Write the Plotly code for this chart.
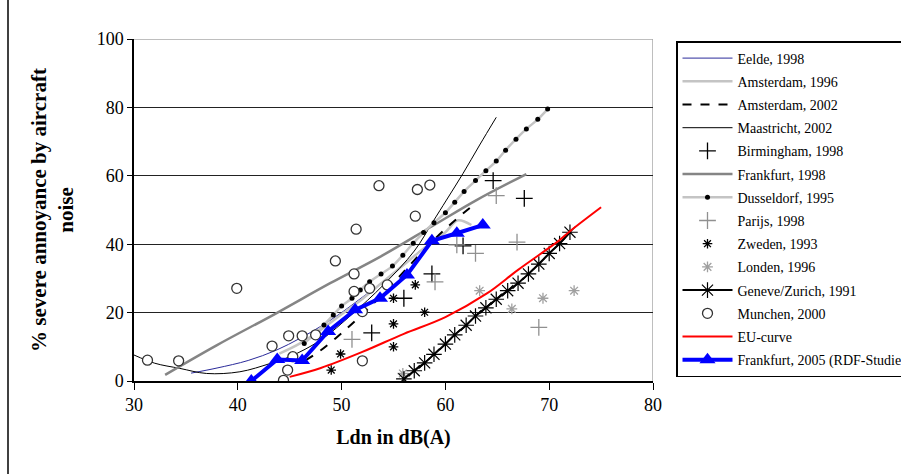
import plotly.graph_objects as go

# --- exposure-response data: Ldn in dB(A) vs % severely annoyed ---
eelde_x = [35.5, 38, 41, 43.7, 46, 48, 50, 52, 54, 56, 57.5]
eelde_y = [2.3, 3.8, 6, 9, 12.5, 16, 20, 24.5, 29, 34, 38]

ams96_x = [44, 46, 48, 50, 52, 54, 56, 58, 60, 61.2, 62.5]
ams96_y = [8, 11, 15, 19.5, 24, 29, 34, 39, 43.5, 47, 45.6]

ams02_x = [46.5, 48, 50, 52, 54, 56, 58, 60, 62.5]
ams02_y = [6, 9, 14, 19.5, 25.5, 32, 38.5, 44.5, 51]

maas_x = [30, 32, 34.4, 37, 40.2, 43.1, 45, 48, 51, 54, 57, 58.8, 60.1, 61.7, 63.3, 64.9]
maas_y = [7.6, 5.2, 3.7, 2.2, 2.7, 5.1, 7.1, 12, 19.5, 28, 38, 46.6, 52.9, 60.7, 69, 77.1]

birm_x = [52.9, 56.0, 58.7, 61.7, 64.6, 67.6]
birm_y = [14.1, 24.2, 31.3, 39.5, 58.6, 53.4]

fra98_x = [33, 38, 43.7, 48.9, 53.7, 58.8, 63, 67.8]
fra98_y = [1.8, 10.5, 19.8, 28.6, 36.3, 45.4, 52.9, 60.5]

dus_x = [46.4, 47.3, 48.3, 49.2, 50, 51, 51.8, 52.7, 53.8, 54.9, 55.9, 56.9, 57.9,
         58.9, 60, 60.9, 61.8, 62.9, 63.9, 64.9, 65.8, 66.8, 67.8, 68.9, 69.85]
dus_y = [11, 13.5, 16.4, 19.3, 21.9, 24.2, 26.6, 29, 31.3, 33.6, 36.8, 40.3, 43.4,
         46.3, 49.2, 52.3, 55.4, 58.6, 61.5, 64.3, 67.5, 70.7, 73.7, 76.5, 79.5]

par_x = [51.0, 59.0, 62.9, 61.1, 66.9, 64.9, 69.0]
par_y = [12.2, 29.0, 37.3, 39.8, 40.6, 54.2, 15.7]

zwe_x = [49.0, 49.9, 55.0, 55.0, 55.0, 57.1, 58.0]
zwe_y = [3.2, 7.9, 10.0, 16.7, 24.2, 28.1, 20.1]

lon_x = [55.9, 63.3, 66.4, 69.4, 72.4]
lon_y = [2.2, 26.4, 21.1, 24.2, 26.4]

gz_x = [56, 57, 58, 58.9, 60, 60.9, 62, 62.9, 63.9, 64.9, 66, 67, 68, 69, 70, 71, 72]
gz_y = [0.6, 3.0, 5.3, 7.8, 10.8, 13.5, 16.3, 19, 21.4, 23.9, 26.4, 28.6, 31.3, 34.2, 37.3, 40.2, 43.5]

mun_x = [31.3, 34.3, 39.9, 43.3, 44.9, 46.2, 47.5, 45.3, 44.8, 44.4,
         57.1, 51.4, 49.4, 51.2, 51.2, 52.7, 54.4, 52.0, 52.0, 53.6, 57.3, 58.5]
mun_y = [6.1, 5.9, 27.1, 10.2, 13.2, 13.2, 13.5, 7.1, 3.2, 0.2,
         48.2, 44.4, 35.1, 31.3, 26.2, 27.1, 28.1, 20.3, 5.9, 57.1, 56.0, 57.3]

eu_x = [45, 48, 52, 56, 60, 64, 67, 71, 72, 75]
eu_y = [1.2, 3.8, 8.5, 13.8, 18.7, 25.6, 32.5, 41.2, 43.8, 50.8]

fra05_x = [41.3, 43.8, 46.2, 48.7, 51.3, 53.7, 56.3, 58.7, 61.1, 63.6]
fra05_y = [0, 6.3, 6.0, 14.5, 20.8, 24.2, 31.0, 41.0, 43.2, 45.6]

x_ticks = [30, 40, 50, 60, 70, 80]
y_ticks = [0, 20, 40, 60, 80, 100]

SERIF = "Liberation Serif, Times New Roman, serif"

fig = go.Figure()


def line(name, xs, ys, color, width, dash="solid", shape="spline"):
    fig.add_trace(go.Scatter(
        x=xs, y=ys, name=name, mode="lines", legendgroup=name,
        line=dict(color=color, width=width, dash=dash, shape=shape)))


def points(name, xs, ys, symbol, color, size, lw=1):
    fig.add_trace(go.Scatter(
        x=xs, y=ys, name=name, mode="markers", legendgroup=name,
        marker=dict(symbol=symbol, size=size, color=color,
                    line=dict(color=color, width=lw))))


line("Eelde, 1998", eelde_x, eelde_y, "#2a2a9a", 1)
line("Amsterdam, 1996", ams96_x, ams96_y, "#c4c4c4", 2.5)
line("Amsterdam, 2002", ams02_x, ams02_y, "#000000", 2, dash="dash")
line("Maastricht, 2002", maas_x, maas_y, "#000000", 1)
points("Birmingham, 1998", birm_x, birm_y, "cross-thin-open", "#000000", 12, 1.3)
line("Frankfurt, 1998", fra98_x, fra98_y, "#858585", 2.5)
fig.add_trace(go.Scatter(
    x=dus_x, y=dus_y, name="Dusseldorf, 1995", mode="lines+markers",
    legendgroup="Dusseldorf, 1995",
    line=dict(color="#c4c4c4", width=2.5, shape="spline"),
    marker=dict(symbol="circle", size=5, color="#000000")))
points("Parijs, 1998", par_x, par_y, "cross-thin-open", "#909090", 12, 1.3)
points("Zweden, 1993", zwe_x, zwe_y, "asterisk-open", "#000000", 8, 1.3)
points("Londen, 1996", lon_x, lon_y, "asterisk-open", "#a0a0a0", 9, 1.3)
fig.add_trace(go.Scatter(
    x=gz_x, y=gz_y, name="Geneve/Zurich, 1991", mode="lines+markers",
    legendgroup="Geneve/Zurich, 1991",
    line=dict(color="#000000", width=2, shape="spline"),
    marker=dict(symbol="asterisk-open", size=13, color="#000000",
                line=dict(color="#000000", width=1.2))))
fig.add_trace(go.Scatter(
    x=mun_x, y=mun_y, name="Munchen, 2000", mode="markers",
    legendgroup="Munchen, 2000",
    marker=dict(symbol="circle", size=10, color="#ffffff",
                line=dict(color="#333333", width=1.3))))
line("EU-curve", eu_x, eu_y, "#ff0000", 2)
fig.add_trace(go.Scatter(
    x=fra05_x, y=fra05_y, name="Frankfurt, 2005 (RDF-Studie)",
    mode="lines+markers", legendgroup="Frankfurt, 2005",
    line=dict(color="#0000ff", width=4),
    marker=dict(symbol="triangle-up", size=14, color="#0000ff")))

W, H = 901, 474
L, R, T, B = 134, 248, 39, 93

fig.update_layout(
    width=W, height=H,
    margin=dict(l=L, r=R, t=T, b=B, autoexpand=False),
    paper_bgcolor="#ffffff", plot_bgcolor="#ffffff",
    font=dict(family=SERIF, size=16, color="#000000"),
    showlegend=True,
    legend=dict(
        x=(676 - L) / (W - L - R), xanchor="left",
        y=1 - (41 - T) / (H - T - B), yanchor="top",
        bgcolor="#ffffff", bordercolor="#000000", borderwidth=1.5,
        font=dict(family=SERIF, size=14, color="#000000"),
        itemwidth=50, tracegroupgap=2,
    ),
    xaxis=dict(
        range=[30, 80], tickvals=x_ticks, ticktext=[str(v) for v in x_ticks],
        showgrid=False, zeroline=False,
        showline=True, linecolor="#000000", linewidth=1.5,
        ticks="outside", ticklen=7, tickwidth=1.2, tickcolor="#000000",
        tickfont=dict(family=SERIF, size=18),
        title=dict(text="<b>Ldn in dB(A)</b>", font=dict(family=SERIF, size=20),
                   standoff=16),
    ),
    yaxis=dict(
        range=[0, 100], tickvals=y_ticks, ticktext=[str(v) for v in y_ticks],
        showgrid=True, gridcolor="#222222", gridwidth=1.3, zeroline=False,
        showline=True, linecolor="#000000", linewidth=1.5,
        ticks="outside", ticklen=5, tickwidth=1.2, tickcolor="#000000",
        tickfont=dict(family=SERIF, size=18),
        title=dict(text="<b>% severe annoyance by aircraft<br>noise</b>",
                   font=dict(family=SERIF, size=21), standoff=17),
    ),
    shapes=[
        # light frame on the top and right of the plotting area
        dict(type="line", xref="x", yref="y", x0=30, x1=80, y0=100, y1=100,
             line=dict(color="#a8a8a8", width=1.5), layer="below"),
        dict(type="line", xref="x", yref="y", x0=80, x1=80, y0=0, y1=100,
             line=dict(color="#a8a8a8", width=1.5), layer="below"),
        # outer chart frame (left edge)
        dict(type="line", xref="paper", yref="paper",
             x0=-(L - 8) / (W - L - R), x1=-(L - 8) / (W - L - R),
             y0=-B / (H - T - B), y1=1 + T / (H - T - B),
             line=dict(color="#000000", width=1.5)),
    ],
)

fig.write_html("out.html")
